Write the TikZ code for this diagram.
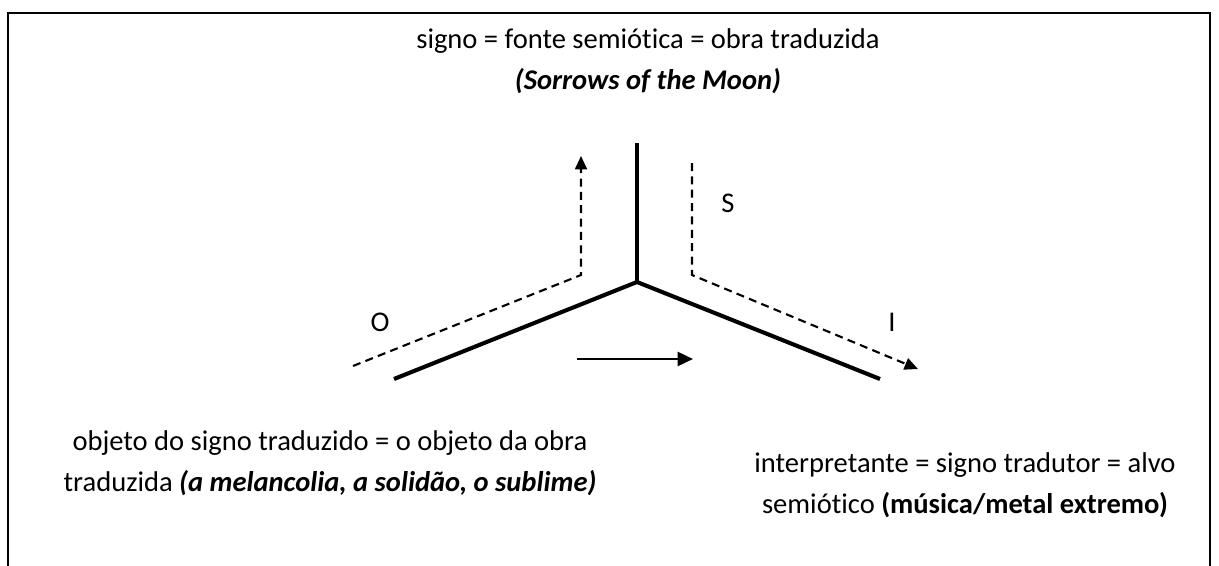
\documentclass[tikz,border=0pt]{standalone}
\usepackage{fontspec}
\setmainfont{Carlito}[Ligatures={NoCommon}]
\usetikzlibrary{arrows.meta}

\begin{document}
\begin{tikzpicture}[
  x=0.025cm, y=-0.025cm,
  txt/.style={align=center, inner sep=0pt, anchor=base, font=\fontsize{20.3}{28.45}\selectfont},
  lbl/.style={inner sep=0pt, font=\fontsize{20.3}{24}\selectfont},
  axis/.style={line width=2.9pt},
  trail/.style={line width=1.5pt, dash pattern=on 5.7pt off 3.8pt, -{Triangle[length=9.5pt,width=8.5pt]}},
  flow/.style={line width=1.9pt, -{Triangle[length=11pt,width=10pt]}}
]
\useasboundingbox (0,0) rectangle (1219,566);
\clip (0,0) rectangle (1219,566);
% frame, open at the bottom
\draw[line width=1.4pt] (8,600) |- (1210,13) -- (1210,600);

% the three branches
\coordinate (centre) at (637,282);
\coordinate (sEnd) at (637,143);
\coordinate (oEnd) at (394,379);
\coordinate (iEnd) at (880,379);
\draw[axis, line width=2.6pt] (sEnd) -- (centre);
\draw[axis, line join=miter] (oEnd) -- (centre) -- (iEnd);

% dashed paths
\coordinate (oStart) at (353,366);
\coordinate (oCorner) at (581,275);
\coordinate (oTip) at (581,156);
\draw[trail] (oStart) -- (oCorner) -- (oTip);
\coordinate (sStart) at (692,163);
\coordinate (sCorner) at (692,275);
\coordinate (iTip) at (918,369);
\draw[trail] (sStart) -- (sCorner) -- (iTip);

% direction of translation
\coordinate (flowA) at (577,359);
\coordinate (flowB) at (693,359);
\draw[flow] (flowA) -- (flowB);

% letters
\node[lbl] (O) at (380,322) {O};
\node[lbl] (S) at (728,203) {S};
\node[lbl] (I) at (892,322) {I};

% texts
\node[txt] (signo) at (648,89) {signo = fonte semiótica = obra traduzida\\
  \textbf{\textit{(Sorrows of the Moon)}}};
\node[txt] (objeto) at (330,491) {objeto do signo traduzido = o objeto da obra\\
  traduzida \textbf{\textit{(a melancolia, a solidão, o sublime)}}};
\node[txt] (interp) at (965,513) {interpretante = signo tradutor = alvo\\
  semiótico \textbf{(música/metal extremo)}};
\end{tikzpicture}
\end{document}
